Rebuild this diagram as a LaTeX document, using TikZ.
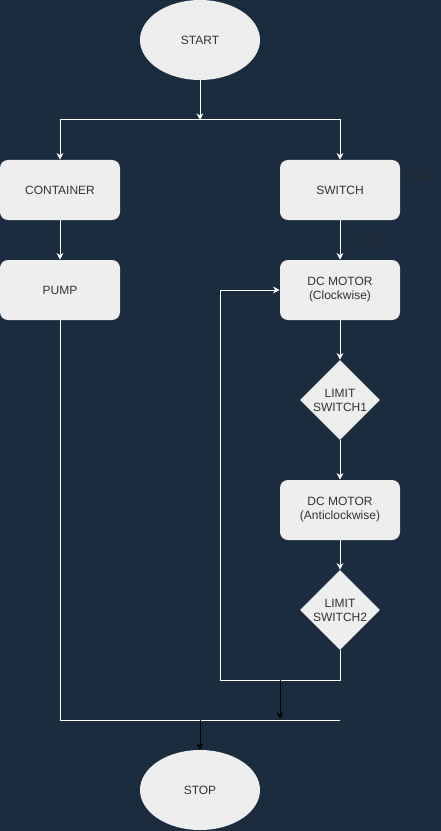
\documentclass[tikz,border=0pt]{standalone}
\usepackage{fontspec}
\setmainfont{Liberation Sans}
\usetikzlibrary{shapes.geometric,arrows.meta}
\definecolor{bgblue}{HTML}{1A2C3E}
\definecolor{boxfill}{HTML}{EEEEEE}
\definecolor{boxtext}{HTML}{333333}
\tikzset{
  block/.style={rectangle, rounded corners=6pt, fill=boxfill, text=boxtext,
    minimum width=90pt, minimum height=45pt, align=center, font=\fontsize{9}{10.5}\selectfont},
  terminal/.style={ellipse, fill=boxfill, text=boxtext, inner sep=0pt,
    minimum width=90pt, minimum height=60pt, font=\fontsize{9}{10.5}\selectfont},
  decision/.style={diamond, fill=boxfill, text=boxtext, inner sep=0pt,
    minimum width=60pt, minimum height=60pt, align=center, font=\fontsize{9}{10.5}\selectfont},
  lbl/.style={text=black!85, font=\fontsize{9}{10.5}\selectfont},
  wline/.style={draw=white, line width=0.75pt},
  warrow/.style={wline, -{Stealth[length=5pt,width=5pt]}},
  karrow/.style={draw=black, line width=0.75pt, -{Stealth[length=5pt,width=5pt]}}
}
\begin{document}
\begin{tikzpicture}[x=0.75pt,y=-0.75pt]
\fill[bgblue] (0,0) rectangle (441,831);
\useasboundingbox (0,0) rectangle (441,831);

% terminals
\node[terminal] (start) at (200,40) {START};
\node[terminal] (stop) at (200,790) {STOP};

% left branch
\node[block] (container) at (60,190) {CONTAINER};
\node[block] (pump) at (60,290) {PUMP};

% right branch
\node[block] (switch) at (340,190) {SWITCH};
\node[block] (motorcw) at (340,290) {DC MOTOR\\(Clockwise)};
\node[decision] (limit1) at (340,400) {LIMIT\\SWITCH1};
\node[block] (motorccw) at (340,510) {DC MOTOR\\(Anticlockwise)};
\node[decision] (limit2) at (340,610) {LIMIT\\SWITCH2};

% labels
\node[lbl] (off) at (420,176) {OFF};
\node[lbl] (on) at (370,241) {ON};

% junction points
\coordinate (split) at (200,120);
\coordinate (loopbr) at (340,680);
\coordinate (loopbl) at (220,680);
\coordinate (loopdrop) at (280,680);
\coordinate (busdrop) at (280,719);
\coordinate (busend) at (340,720);
\coordinate (busmid) at (200,720);

\draw[warrow] (start) -- (split);
\draw[warrow] (split) -| (container);
\draw[warrow] (split) -| (switch);
\draw[warrow] (container) -- (pump);
\draw[warrow] (switch) -- (motorcw);
\draw[warrow] (motorcw) -- (limit1);
\draw[warrow] (limit1) -- (motorccw);
\draw[warrow] (motorccw) -- (limit2);
\draw[warrow] (limit2) -- (loopbr) -- (loopbl) |- (motorcw);
\draw[wline] (pump) |- (busend);
\draw[karrow] (loopdrop) -- (busdrop);
\draw[karrow] (busmid) -- (stop);
\end{tikzpicture}
\end{document}
